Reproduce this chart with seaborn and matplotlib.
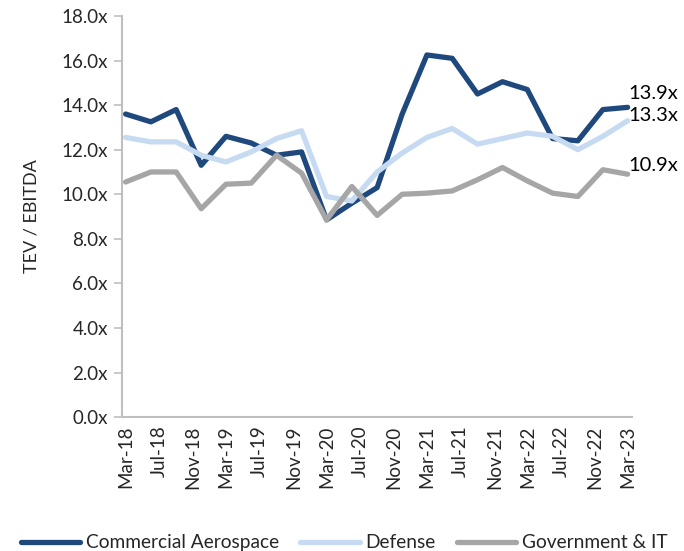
import matplotlib
matplotlib.use("Agg")
import matplotlib.pyplot as plt
import matplotlib.dates as mdates
import pandas as pd
import numpy as np
import seaborn as sns

# quarterly observations, Mar-18 .. Mar-23
dates = pd.date_range("2018-03-01", "2023-03-01", freq="3MS")

commercial_aerospace = [13.6, 13.25, 13.8, 11.3, 12.6, 12.3, 11.75, 11.9, 8.85, 9.6, 10.3,
                        13.6, 16.25, 16.1, 14.5, 15.05, 14.7, 12.5, 12.4, 13.8, 13.9]
defense = [12.55, 12.35, 12.35, 11.75, 11.45, 11.9, 12.5, 12.85, 9.9, 9.7, 11.0,
           11.85, 12.55, 12.95, 12.25, 12.5, 12.75, 12.6, 12.0, 12.6, 13.3]
gov_it = [10.55, 11.0, 11.0, 9.35, 10.45, 10.5, 11.75, 10.95, 8.85, 10.35, 9.05,
          10.0, 10.05, 10.15, 10.65, 11.2, 10.6, 10.05, 9.9, 11.1, 10.9]

series_names = ["Commercial Aerospace", "Defense", "Government & IT"]
colors = ["#1f497d", "#c6dbf1", "#a6a6a6"]

df = pd.DataFrame({"date": dates,
                   series_names[0]: commercial_aerospace,
                   series_names[1]: defense,
                   series_names[2]: gov_it})
long_df = df.melt(id_vars="date", var_name="sector", value_name="multiple")

sns.set_style("white")
plt.rcParams["font.family"] = ["Lato", "DejaVu Sans"]

fig = plt.figure(figsize=(6.84, 5.51), dpi=100)
ax = fig.add_axes([0.178, 0.243, 0.746, 0.728])

sns.lineplot(data=long_df, x="date", y="multiple", hue="sector",
             hue_order=series_names, palette=colors, linewidth=3.8, ax=ax)

# end-of-series labels (nudged like the original)
offsets = {"Commercial Aerospace": 0.62, "Defense": 0.22, "Government & IT": 0.37}
for name in series_names:
    last = df[name].iloc[-1]
    ax.text(df["date"].iloc[-1] + pd.Timedelta(days=3), last + offsets[name], f"{last:.1f}x",
            fontsize=14.5, va="center", ha="left", color="black", clip_on=False)

ax.set_ylim(0, 18)
ax.set_yticks(np.arange(0, 18.1, 2))
ax.set_yticklabels([f"{v:.1f}x" for v in np.arange(0, 18.1, 2)], fontsize=13.5)
ax.set_xlim(pd.Timestamp("2018-02-15"), pd.Timestamp("2023-03-17"))
ax.xaxis.set_major_locator(mdates.MonthLocator(bymonth=[3, 7, 11]))
ax.xaxis.set_major_formatter(mdates.DateFormatter("%b-%y"))
plt.setp(ax.get_xticklabels(), rotation=90, fontsize=13.5)
ax.tick_params(axis="x", length=0, pad=6)
ax.tick_params(axis="y", length=6, color="#bfbfbf", width=1.2, direction="out", left=True, pad=4)
ax.set_xlabel("")
ax.set_ylabel("TEV / EBITDA", fontsize=13, labelpad=16)

for side in ["top", "right"]:
    ax.spines[side].set_visible(False)
for side in ["left", "bottom"]:
    ax.spines[side].set_color("#bfbfbf")
    ax.spines[side].set_linewidth(1.5)

ax.get_legend().remove()
handles, labels = ax.get_legend_handles_labels()
fig.legend(handles, labels, loc="lower center", bbox_to_anchor=(0.503, -0.032), ncol=3,
           frameon=False, fontsize=13.8, handlelength=3.1, columnspacing=1.1, handletextpad=0.3)

fig.savefig("out.png", dpi=100)
